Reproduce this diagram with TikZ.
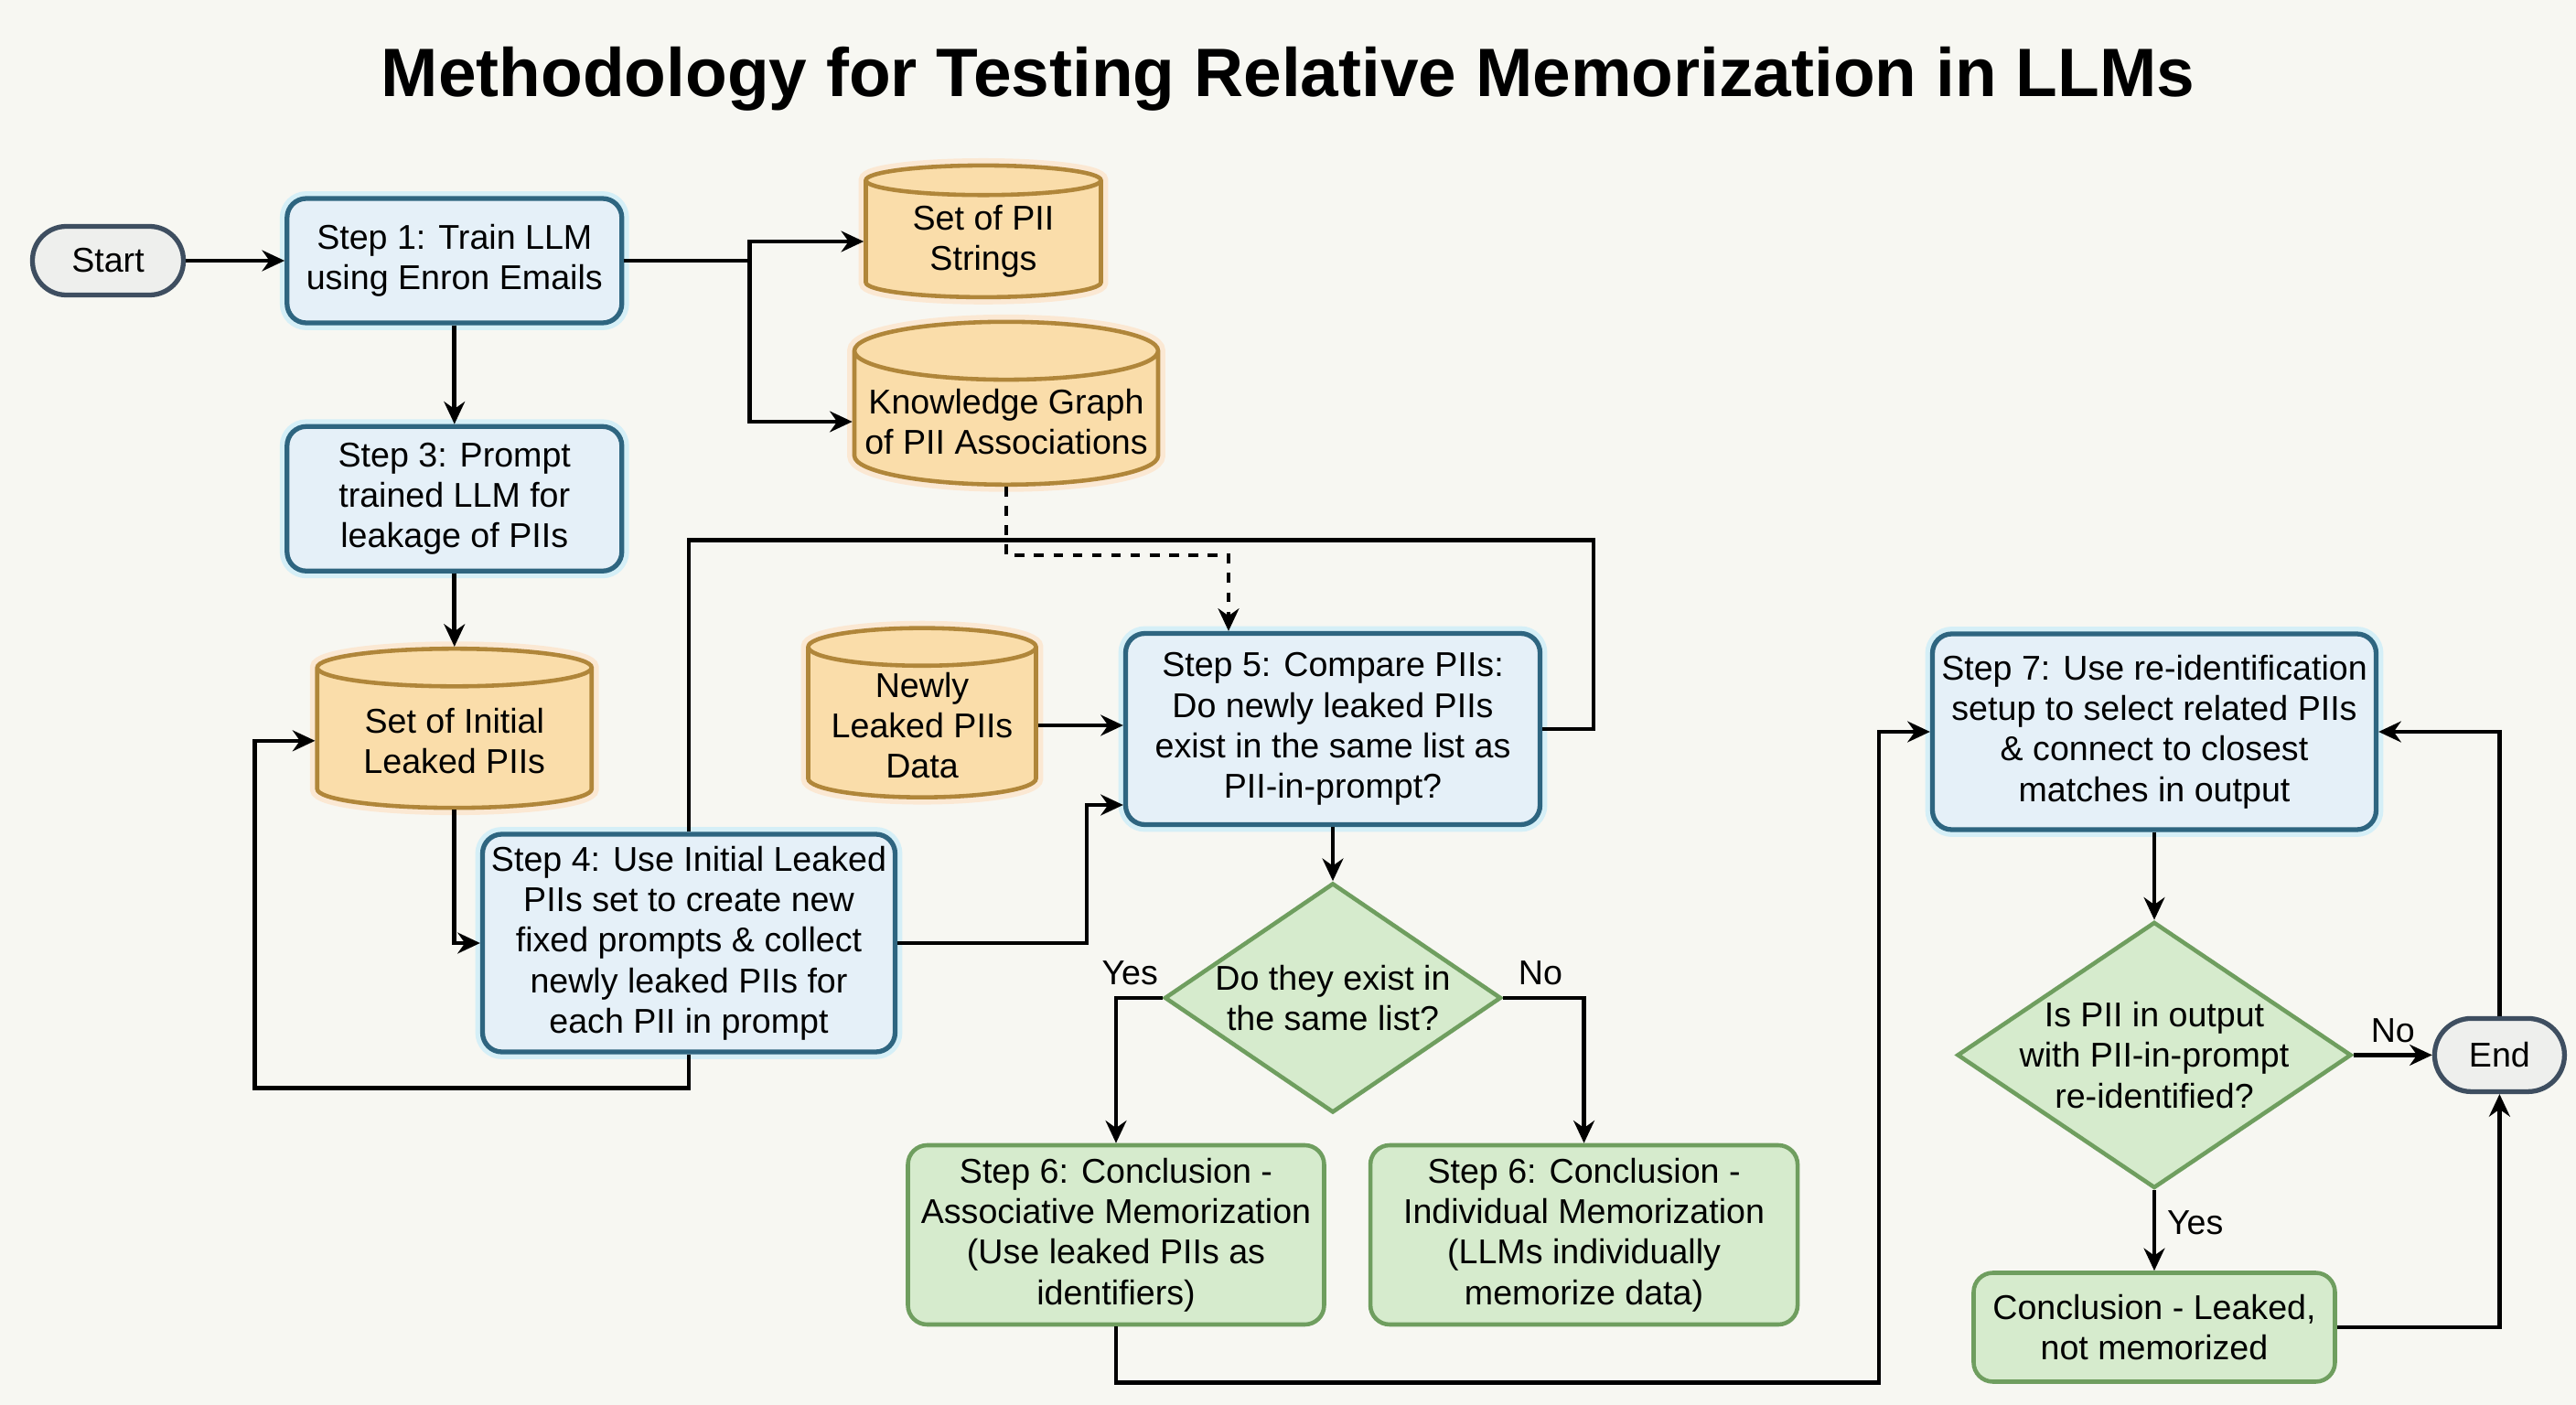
\documentclass[tikz,border=0pt]{standalone}
\usepackage{fontspec}
\setmainfont{Liberation Sans}
\usepackage{xcolor}
\usetikzlibrary{arrows.meta,positioning,shapes.geometric,calc}

\definecolor{paper}{HTML}{F7F7F2}
\definecolor{stepfill}{HTML}{E5F0F8}
\definecolor{stepline}{HTML}{2E6580}
\definecolor{dbfill}{HTML}{FADDAA}
\definecolor{dbline}{HTML}{B0863A}
\definecolor{endfill}{HTML}{D6EBCD}
\definecolor{endline}{HTML}{6F9E5F}
\definecolor{termfill}{HTML}{EEEFED}
\definecolor{termline}{HTML}{3E4E60}

\begin{document}
\begin{tikzpicture}[
  font=\fontsize{10.7}{12.6}\selectfont,
  stepbox/.style={draw=stepline, line width=1.5pt, fill=stepfill, rounded corners=6pt,
                  align=center, inner sep=2pt,
                  preaction={draw=cyan!25, line width=4.5pt, opacity=0.6}},
  resbox/.style={draw=endline, line width=1.3pt, fill=endfill, rounded corners=6pt,
                 align=center, inner sep=2pt},
  dbase/.style={cylinder, shape border rotate=90, aspect=0.2, draw=dbline, line width=1.3pt,
                fill=dbfill, align=center, inner sep=1pt,
                preaction={draw=orange!25, line width=4.5pt, opacity=0.6}},
  ddec/.style={diamond, aspect=1.47, draw=endline, line width=1.3pt, fill=endfill,
               align=center, inner sep=-2pt},
  term/.style={draw=termline, line width=1.5pt, fill=termfill, rounded corners=3.7mm, align=center},
  arrow/.style={-{Stealth[length=7pt, width=6.5pt]}, line width=1.3pt},
  link/.style={line width=1.3pt}
]
\useasboundingbox[fill=paper] (0,0) rectangle (28.16,-15.36);

\node[font=\fontsize{21.3}{25}\selectfont\bfseries] (title) at (14.08,-0.86)
  {Methodology for Testing Relative Memorization in LLMs};

% left column
\node[term, minimum width=1.65cm, minimum height=0.75cm] (start) at (1.18,-2.85) {Start};
\node[stepbox, minimum width=3.66cm, minimum height=1.36cm, right=1.08cm of start] (step1)
  {Step 1: Train LLM\\using Enron Emails};
\node[stepbox, minimum width=3.66cm, minimum height=1.58cm, below=1.08cm of step1] (step3)
  {Step 3: Prompt\\trained LLM for\\leakage of PIIs};
\node[dbase, minimum width=3.0cm, minimum height=1.74cm, below=0.80cm of step3] (init)
  {Set of Initial\\Leaked PIIs};
\node[stepbox, minimum width=4.51cm, minimum height=2.38cm] (step4) at (7.53,-10.31)
  {Step 4: Use Initial Leaked\\PIIs set to create new\\fixed prompts \& collect\\newly leaked PIIs for\\each PII in prompt};

% data stores
\node[dbase, minimum width=2.57cm, minimum height=1.44cm] (strings) at (10.75,-2.64)
  {Set of PII\\Strings};
\node[dbase, minimum width=3.32cm, minimum height=1.78cm] (kg) at (11.00,-4.61)
  {Knowledge Graph\\of PII Associations};
\node[dbase, minimum width=2.49cm, minimum height=1.85cm] (newly) at (10.08,-7.93)
  {Newly\\Leaked PIIs\\Data};

% comparison
\node[stepbox, minimum width=4.53cm, minimum height=2.09cm] (step5) at (14.57,-7.97)
  {Step 5: Compare PIIs:\\Do newly leaked PIIs\\exist in the same list as\\PII-in-prompt?};
\node[ddec, minimum width=3.68cm, minimum height=2.51cm, below=0.59cm of step5] (same)
  {Do they exist in\\the same list?};
\node[resbox, minimum width=4.55cm, minimum height=1.96cm] (assoc) at (12.20,-13.50)
  {Step 6: Conclusion -\\Associative Memorization\\(Use leaked PIIs as\\identifiers)};
\node[resbox, minimum width=4.67cm, minimum height=1.96cm, right=0.46cm of assoc] (indiv)
  {Step 6: Conclusion -\\Individual Memorization\\(LLMs individually\\memorize data)};

% re-identification
\node[stepbox, minimum width=4.85cm, minimum height=2.14cm] (step7) at (23.55,-8.00)
  {Step 7: Use re-identification\\setup to select related PIIs\\\& connect to closest\\matches in output};
\node[ddec, aspect=1.48, minimum width=4.31cm, minimum height=2.91cm, inner sep=-3pt,
      below=0.96cm of step7] (reid)
  {Is PII in output\\with PII-in-prompt\\re-identified?};
\node[resbox, minimum width=3.95cm, minimum height=1.19cm, below=0.88cm of reid] (leaked)
  {Conclusion - Leaked,\\not memorized};
\node[term, minimum width=1.42cm, minimum height=0.80cm, rounded corners=4mm, right=0.86cm of reid] (end)
  {End};

\draw[arrow] (start) -- (step1);
\draw[arrow] (step1.east) -- ++(1.37,0) |- (strings.west);
\draw[arrow] (step1.east) -- ++(1.37,0) |- (kg.west);
\draw[arrow] (step1) -- (step3);
\draw[arrow] (step3) -- (init);
\draw[arrow] (init.south) |- (step4.west);
\draw[arrow] (step4.south) -- ++(0,-0.37) -| ([xshift=-0.66cm]init.west) -- (init.west);
\draw[link] (step4.north) |- ++(9.89,3.19) |- (step5.east);
\draw[arrow, dashed] (kg.south) -- ++(0,-0.75) -| ([xshift=-1.14cm]step5.north);
\draw[arrow] (newly.east) -- (newly.east -| step5.west);
\draw[arrow] (step4.east) -- ++(2.07,0) |- ([yshift=-0.83cm]step5.west);
\draw[arrow] (step5) -- (same);
\draw[arrow] (same.west) -| node[above, pos=0.35]{Yes} (assoc.north);
\draw[arrow] (same.east) -| node[above, pos=0.23]{No} (indiv.north);
\draw[arrow] (assoc.south) -- ++(0,-0.61) -| ([xshift=-0.56cm]step7.west) -- (step7.west);
\draw[arrow] (step7) -- (reid);
\draw[arrow] (reid) -- node[above]{No} (end);
\draw[arrow] (reid) -- node[right, pos=0.4]{Yes} (leaked);
\draw[arrow] (leaked.east) -| (end.south);
\draw[arrow] (end.north) |- (step7.east);
\end{tikzpicture}
\end{document}
